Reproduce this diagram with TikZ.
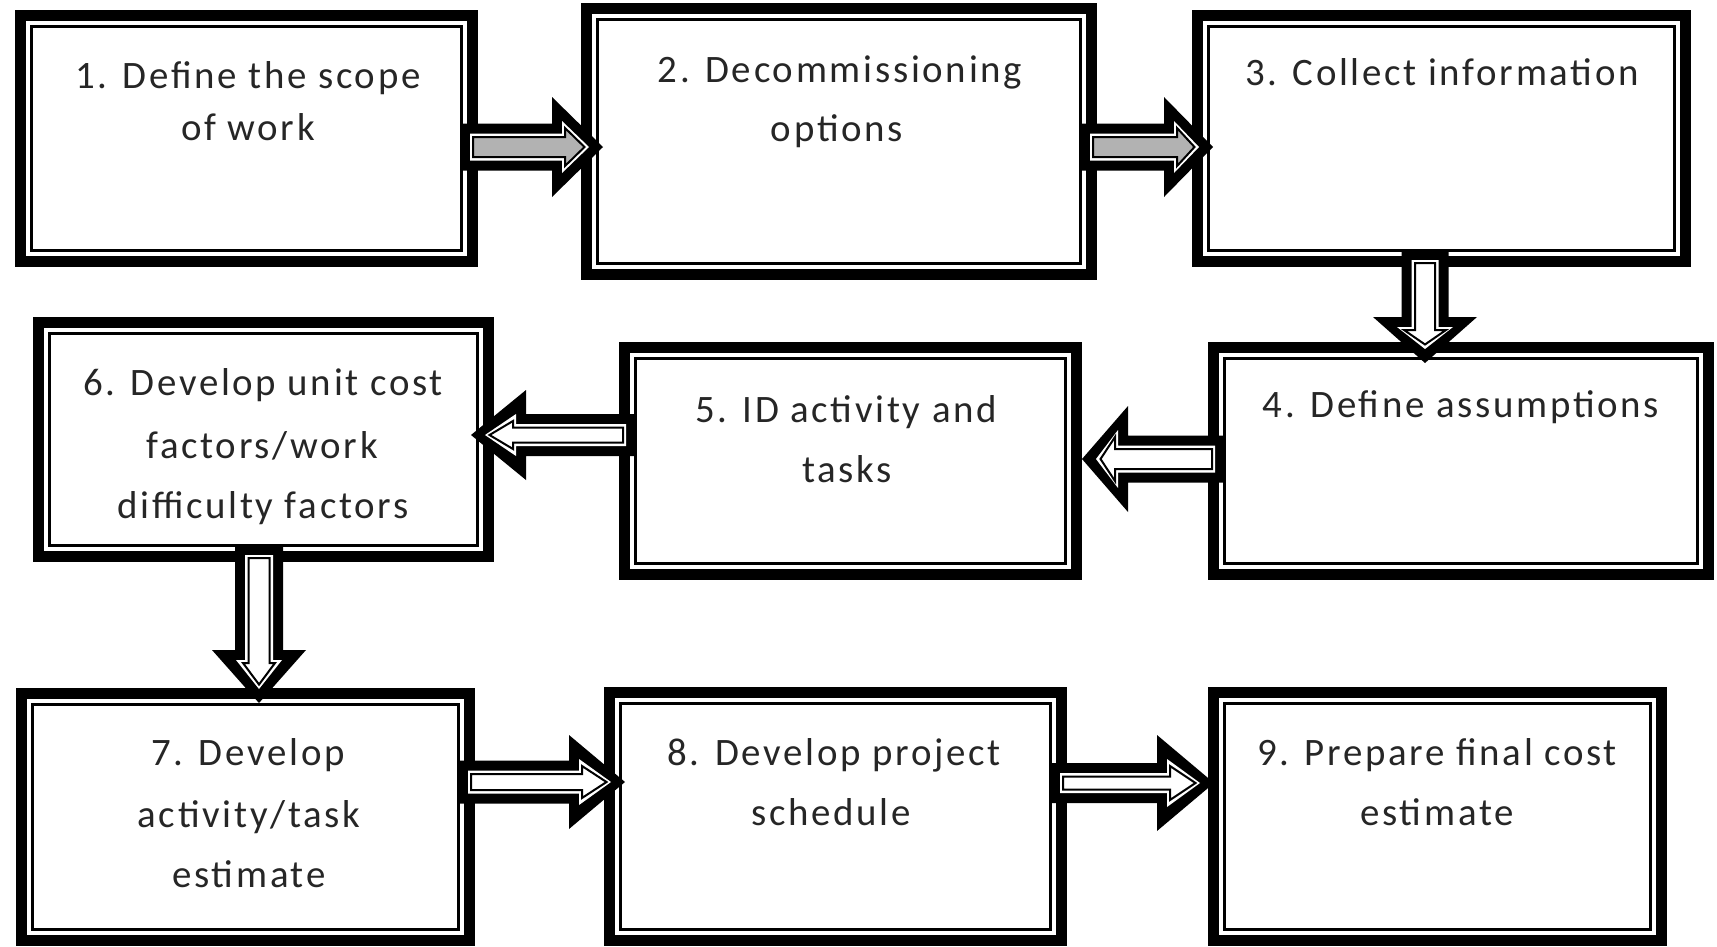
\documentclass[tikz,border=0pt]{standalone}
\usepackage{fontspec}
\usetikzlibrary{calc}
\newfontfamily\boxfontfam[LetterSpace=7]{Carlito}
\newcommand\boxfont{\boxfontfam\fontsize{39}{47}\selectfont}
\tikzset{
  boxouter/.style={rectangle, draw=black, line width=11bp, fill=white, inner sep=0pt, outer sep=0pt},
  boxinner/.style={draw=black, line width=3bp},
  lbl/.style={anchor=base, inner sep=0pt, outer sep=0pt, text=black!85, font=\boxfont}
}
% #1 start, #2 tip, #3 ux, #4 uy, #5 start offset, #6 shaft half, #7 head half, #8 head base back from tip, #9 tip back
\newcommand\fatpoly[9]{%
 ($(#1)+({(#5)*(#3)-(#6)*(#4)},{(#5)*(#4)+(#6)*(#3)})$) --
 ($(#2)+({-(#8)*(#3)-(#6)*(#4)},{-(#8)*(#4)+(#6)*(#3)})$) --
 ($(#2)+({-(#8)*(#3)-(#7)*(#4)},{-(#8)*(#4)+(#7)*(#3)})$) --
 ($(#2)+({-(#9)*(#3)},{-(#9)*(#4)})$) --
 ($(#2)+({-(#8)*(#3)+(#7)*(#4)},{-(#8)*(#4)-(#7)*(#3)})$) --
 ($(#2)+({-(#8)*(#3)+(#6)*(#4)},{-(#8)*(#4)-(#6)*(#3)})$) --
 ($(#1)+({(#5)*(#3)+(#6)*(#4)},{(#5)*(#4)-(#6)*(#3)})$) -- cycle}
% #1 start, #2 tip, #3 ux, #4 uy, #5 shaft half, #6 head half, #7 head length, #8 centre colour
\newcommand\fatarrow[8]{%
 \fill[black] \fatpoly{#1}{#2}{#3}{#4}{0}{#5}{#6}{#7}{0};
 \fill[white] \fatpoly{#1}{#2}{#3}{#4}{10}{#5-10}{#6-24}{#7-10}{14};
 \filldraw[fill=#8, draw=black, line width=2bp, line join=miter] \fatpoly{#1}{#2}{#3}{#4}{13}{#5-13.5}{#6-31}{#7-13}{18.5};
}
% #1 name, #2 left, #3 top, #4 right, #5 bottom (outer edges, px)
\newcommand\dblbox[5]{%
 \node[boxouter, minimum width={(#4-#2-11)*1bp}, minimum height={(#5-#3-11)*1bp}] (#1) at ({(#2+#4)/2},{(#3+#5)/2}) {};
 \draw[boxinner] ([xshift=11bp,yshift=-11bp]#1.north west) rectangle ([xshift=-11bp,yshift=11bp]#1.south east);
}
\begin{document}
\begin{tikzpicture}[x=1bp,y=-1bp]
\fill[white] (0,0) rectangle (1717,946);
\useasboundingbox (0,0) rectangle (1717,946);

% boxes
\dblbox{b1}{15}{10}{478}{267}
\dblbox{b2}{581}{3}{1097}{280}
\dblbox{b3}{1192}{10}{1691}{267}
\dblbox{b4}{1208}{342}{1714}{580}
\dblbox{b5}{619}{342}{1082}{580}
\dblbox{b6}{33}{317}{494}{562}
\dblbox{b7}{16}{688}{475}{946}
\dblbox{b8}{604}{687}{1067}{946}
\dblbox{b9}{1208}{687}{1667}{946}

% connector end points
\coordinate (s12) at ($(b1.east |- 0,147)+(-12.5,0)$);
\coordinate (e12) at ($(b2.west |- 0,147)+(16.5,0)$);
\coordinate (s23) at ($(b2.east |- 0,147)+(-11.5,0)$);
\coordinate (e23) at ($(b3.west |- 0,147)+(15.5,0)$);
\coordinate (s34) at ($(1425,0 |- b3.south)+(0,-11.5)$);
\coordinate (e34) at ($(1425,0 |- b4.north)+(0,15.5)$);
\coordinate (s45) at ($(b4.west |- 0,459)+(11.5,0)$);
\coordinate (e45) at ($(b5.east |- 0,459)+(5.5,0)$);
\coordinate (s56) at ($(b5.west |- 0,435)+(11.5,0)$);
\coordinate (e56) at ($(b6.east |- 0,435)+(-17.5,0)$);
\coordinate (s67) at ($(259,0 |- b6.south)+(0,-11.5)$);
\coordinate (e67) at ($(259,0 |- b7.north)+(0,9.5)$);
\coordinate (s78) at ($(b7.east |- 0,782)+(-11.5,0)$);
\coordinate (e78) at ($(b8.west |- 0,782)+(15.5,0)$);
\coordinate (s89) at ($(b8.east |- 0,783)+(-11.5,0)$);
\coordinate (e89) at ($(b9.west |- 0,783)+(0.5,0)$);

% connectors
\fatarrow{s12}{e12}{1}{0}{23.5}{50}{51}{black!30}
\fatarrow{s23}{e23}{1}{0}{23.5}{50}{49}{black!30}
\fatarrow{s34}{e34}{0}{1}{23.5}{52}{46}{white}
\fatarrow{s45}{e45}{-1}{0}{23.5}{53}{46}{white}
\fatarrow{s56}{e56}{-1}{0}{21}{45}{55}{white}
\fatarrow{s67}{e67}{0}{1}{24}{47}{53}{white}
\fatarrow{s78}{e78}{1}{0}{21.5}{47}{56}{white}
\fatarrow{s89}{e89}{1}{0}{20}{48}{57}{white}

% texts
\node[lbl] (t1a) at (248,88) {1. Define the scope};
\node[lbl] (t1b) at (248,140) {of work};
\node[lbl] (t2a) at (840,82) {2. Decommissioning};
\node[lbl] (t2b) at (837,141) {options};
\node[lbl] (t3a) at (1442,85) {3. Collect information};
\node[lbl] (t4a) at (1461,417) {4. Define assumptions};
\node[lbl] (t5a) at (846,422) {5. ID activity and};
\node[lbl] (t5b) at (847,482) {tasks};
\node[lbl] (t6a) at (263,395) {6. Develop unit cost};
\node[lbl] (t6b) at (262,458) {factors/work};
\node[lbl] (t6c) at (263,518) {difficulty factors};
\node[lbl] (t7a) at (248,765) {7. Develop};
\node[lbl] (t7b) at (249,827) {activity/task};
\node[lbl] (t7c) at (249,887) {estimate};
\node[lbl] (t8a) at (834,765) {8. Develop project};
\node[lbl] (t8b) at (831,825) {schedule};
\node[lbl] (t9a) at (1437,765) {9. Prepare final cost};
\node[lbl] (t9b) at (1437,825) {estimate};
\end{tikzpicture}
\end{document}
